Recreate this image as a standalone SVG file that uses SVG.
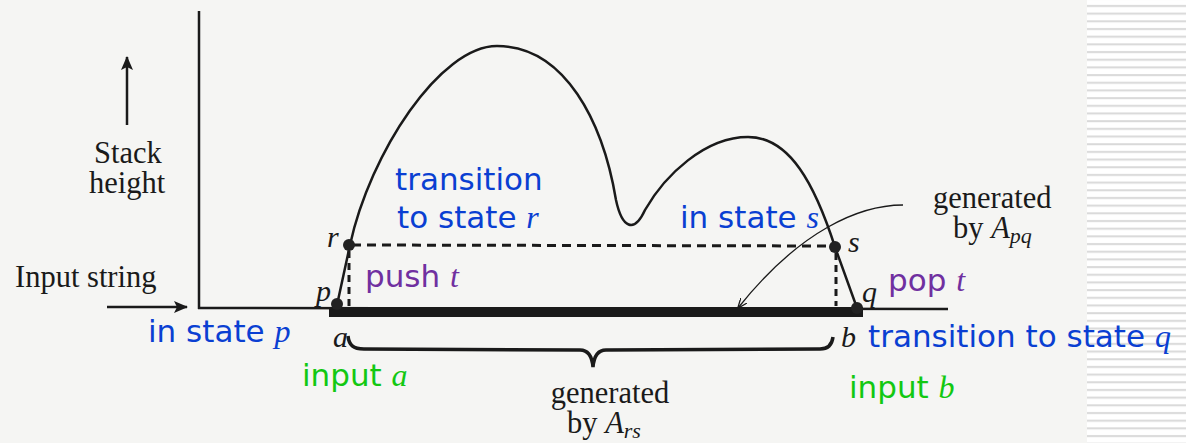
<svg xmlns="http://www.w3.org/2000/svg" width="1186" height="443" viewBox="0 0 1186 443">
<style>
.serif{font-family:"Liberation Serif","Times New Roman",serif;font-size:30.5px;fill:#1a1a1a}
.var{font-family:"Liberation Serif","Times New Roman",serif;font-style:italic;font-size:30px;fill:#1a1a1a}
.sans{font-family:"DejaVu Sans",Verdana,sans-serif;font-size:31px}
.it{font-family:"Liberation Serif","Times New Roman",serif;font-style:italic;font-size:32px}
.blue{fill:#0a3fd2}
.purple{fill:#7030a0}
.green{fill:#12c812}
.ln{stroke:#1a1a1a;fill:none}
.dash{stroke:#1a1a1a;stroke-width:3;fill:none}
.dot{fill:#222}
</style>
<defs>
<marker id="ah" viewBox="0 0 14 12" refX="13" refY="6" markerWidth="14" markerHeight="12" markerUnits="userSpaceOnUse" orient="auto">
<path d="M0,0 L14,6 L0,12 L3,6 Z" fill="#1a1a1a"/>
</marker>
<marker id="ahs" viewBox="0 0 10 8" refX="9.5" refY="4" markerWidth="10" markerHeight="8" markerUnits="userSpaceOnUse" orient="auto">
<path d="M0,0 L10,4 L0,8" fill="none" stroke="#1a1a1a" stroke-width="1.3"/>
</marker>
<pattern id="stripes" x="0" y="2" width="20" height="7.68" patternUnits="userSpaceOnUse">
<rect x="0" y="3" width="20" height="2" fill="#d9d9d9"/>
</pattern>
</defs>
<rect width="1186" height="443" fill="#f5f5f3"/>
<rect x="1087" y="0" width="99" height="443" fill="#ffffff"/>
<rect x="1087" y="0" width="99" height="443" fill="url(#stripes)"/>

<g id="connectors">
<line id="vaxis" class="ln" x1="199" y1="11" x2="199" y2="309" stroke-width="2.5"/>
<line id="haxis" class="ln" x1="198" y1="308" x2="948" y2="309" stroke-width="2.5"/>
<rect id="inputbar" x="329" y="307" width="534" height="10" fill="#1a1a1a"/>
<line id="stackarrow" class="ln" x1="127" y1="125" x2="127" y2="57" stroke-width="2.5" marker-end="url(#ah)"/>
<line id="inputarrow" class="ln" x1="107" y1="307" x2="187" y2="307" stroke-width="2.5" marker-end="url(#ah)"/>
<path id="stackcurve" class="ln" stroke-width="2.5" d="M337,305 L350,245 C370,153 440,46 497,46 C565,46 603,122 616,200 C622,228 634,234 645,210 C665,175 705,137 748,137 C790,137 815,185 835,247 L857,308"/>
<line class="dash" x1="352" y1="245" x2="833" y2="246" stroke-dasharray="9 6"/>
<line class="dash" x1="349" y1="251" x2="349" y2="306" stroke-dasharray="7 5"/>
<line class="dash" x1="836" y1="253" x2="836" y2="306" stroke-dasharray="7 5"/>
<path id="apqarrow" class="ln" stroke-width="1.3" d="M903,205 C860,205 800,230 738,308" marker-end="url(#ahs)"/>
<path id="brace" class="ln" stroke-width="3.5" d="M348,336 C349,345 353,349 364,349 L580,350 C588,350 592,356 593,367 C594,356 598,350 606,350 L820,349 C828,349 832,345 833,337"/>
</g>

<g id="point-p"><circle class="dot" cx="337" cy="304" r="6"/><text class="var" x="316" y="301">p</text></g>
<g id="point-r"><circle class="dot" cx="349" cy="245" r="6"/><text class="var" x="327" y="247">r</text></g>
<g id="point-s"><circle class="dot" cx="835" cy="247" r="6"/><text class="var" x="848" y="252">s</text></g>
<g id="point-q"><circle class="dot" cx="857" cy="308" r="6"/><text class="var" x="862" y="302">q</text></g>
<g id="label-a"><text class="var" x="333" y="347">a</text></g>
<g id="label-b"><text class="var" x="841" y="347">b</text></g>

<g id="axis-labels">
<text class="serif" x="128" y="163" text-anchor="middle">Stack</text>
<text class="serif" x="127" y="193" text-anchor="middle">height</text>
<text class="serif" x="15" y="287">Input string</text>
</g>

<g id="gen-rs">
<text class="serif" x="610" y="403" text-anchor="middle">generated</text>
<text class="serif" x="567" y="433">by <tspan font-style="italic">A</tspan><tspan font-style="italic" font-size="22" dy="5">rs</tspan></text>
</g>
<g id="gen-pq">
<text class="serif" x="933" y="208">generated</text>
<text class="serif" x="953" y="238">by <tspan font-style="italic">A</tspan><tspan font-style="italic" font-size="22" dy="5">pq</tspan></text>
</g>

<g id="ann-transition-r">
<text class="sans blue" x="395" y="190">transition</text>
<text class="sans blue" x="397" y="228">to state <tspan class="it">r</tspan></text>
</g>
<g id="ann-state-s"><text class="sans blue" x="680" y="228">in state <tspan class="it">s</tspan></text></g>
<g id="ann-push"><text class="sans purple" x="365" y="287">push <tspan class="it">t</tspan></text></g>
<g id="ann-pop"><text class="sans purple" x="888" y="291">pop <tspan class="it">t</tspan></text></g>
<g id="ann-state-p"><text class="sans blue" x="148" y="342">in state <tspan class="it">p</tspan></text></g>
<g id="ann-transition-q"><text class="sans blue" x="868" y="347">transition to state <tspan class="it">q</tspan></text></g>
<g id="ann-input-a"><text class="sans green" x="302" y="386">input <tspan class="it">a</tspan></text></g>
<g id="ann-input-b"><text class="sans green" x="849" y="398">input <tspan class="it">b</tspan></text></g>
</svg>
